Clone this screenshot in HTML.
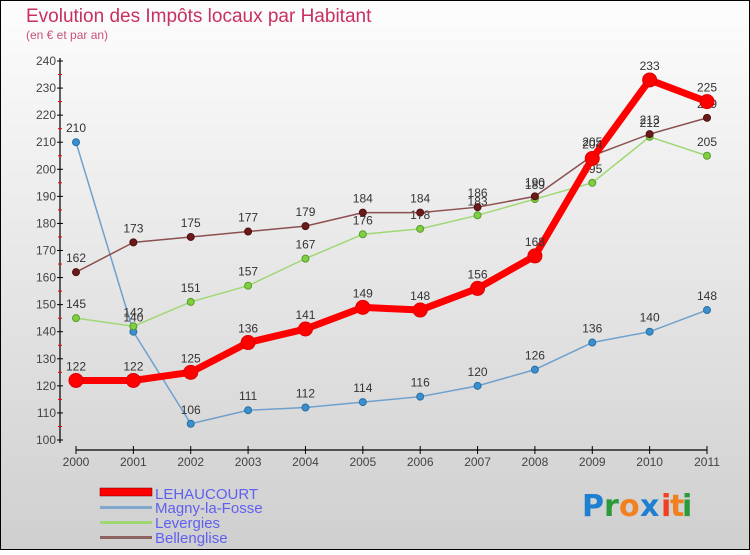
<!DOCTYPE html>
<html><head><meta charset="utf-8"><style>
html,body{margin:0;padding:0}
body{width:750px;height:550px;overflow:hidden;font-family:"Liberation Sans","DejaVu Sans",sans-serif}
</style></head><body>
<svg id="c" width="750" height="550" xmlns="http://www.w3.org/2000/svg">
<defs><linearGradient id="bg" x1="0" y1="0" x2="0" y2="1"><stop offset="0" stop-color="#fdfdfd"/><stop offset="1" stop-color="#cfcfcf"/></linearGradient></defs>
<rect x="0.5" y="0.5" width="749" height="549" fill="url(#bg)" stroke="#000" stroke-width="1"/>
<text x="26" y="22" font-size="19" fill="#c8305f">Evolution des Impôts locaux par Habitant</text>
<text x="26" y="39" font-size="12" fill="#c8507a">(en € et par an)</text>
<g id="axes"></g><g id="series"></g>
<g>
<rect x="100" y="488" width="52" height="8" fill="#f00" stroke="#600" stroke-width="0.5"/>
<rect x="100" y="506" width="52" height="3" fill="#7fa8cc"/>
<rect x="100" y="521" width="52" height="3" fill="#9fd873"/>
<rect x="100" y="536" width="52" height="3" fill="#8c6262"/>
<text x="155" y="499" font-size="15" fill="#6060f0">LEHAUCOURT</text>
<text x="155" y="513" font-size="15" fill="#6060f0">Magny-la-Fosse</text>
<text x="155" y="528" font-size="15" fill="#6060f0">Levergies</text>
<text x="155" y="543" font-size="15" fill="#6060f0">Bellenglise</text>
</g>
<g font-size="30" font-weight="bold" font-family="'DejaVu Sans',sans-serif">
<text x="582" y="516" fill="#1f7fd0">P</text><text x="604" y="516" fill="#2a9a3a">r</text><text x="619" y="516" fill="#f08020">o</text><text x="640" y="516" fill="#1f7fd0">x</text><text x="661" y="516" fill="#f04020">i</text><text x="670" y="516" fill="#f08020">t</text><text x="682" y="516" fill="#2a9a3a">i</text>
</g>
</svg>
<script>
const years=[2000,2001,2002,2003,2004,2005,2006,2007,2008,2009,2010,2011];
const yTicks=[100,110,120,130,140,150,160,170,180,190,200,210,220,230,240];
const lehaucourt=[122,122,125,136,141,149,148,156,168,204,233,225];
const magny=[210,140,106,111,112,114,116,120,126,136,140,148];
const levergies=[145,142,151,157,167,176,178,183,189,195,212,205];
const bellenglise=[162,173,175,177,179,184,184,186,190,205,213,219];
const NS="http://www.w3.org/2000/svg";
const X=i=>76+i*(707-76)/11;
const Y=v=>440-(v-100)*(440-61)/140;
function mk(t,a,p){const e=document.createElementNS(NS,t);for(const k in a)e.setAttribute(k,a[k]);p.appendChild(e);return e;}
const ax=document.getElementById('axes');
mk('line',{x1:60,y1:58,x2:60,y2:443,stroke:'#000','stroke-width':1.2},ax);
mk('line',{x1:76,y1:450,x2:707,y2:450,stroke:'#000','stroke-width':1.2},ax);
yTicks.forEach(v=>{
 mk('line',{x1:57,x2:63,y1:Y(v),y2:Y(v),stroke:'#000'},ax);
 if(v<240)mk('line',{x1:58,x2:62,y1:Y(v+5),y2:Y(v+5),stroke:'#e00'},ax);
 const t=mk('text',{x:56,y:Y(v)+4,'text-anchor':'end','font-size':12,fill:'#444'},ax);t.textContent=v;
 
 
});
years.forEach((y,i)=>{
 mk('line',{x1:X(i),x2:X(i),y1:446,y2:454,stroke:'#000'},ax);
 const t=mk('text',{x:X(i),y:466,'text-anchor':'middle','font-size':12,fill:'#444'},ax);t.textContent=y;
 
 
});
const sg=document.getElementById('series');
function series(data,name,color,w,r,dot,dotStroke){
 const g=mk('g',{},sg);
 
 
 mk('polyline',{points:data.map((v,i)=>X(i)+','+Y(v)).join(' '),fill:'none',stroke:color,'stroke-width':w,'stroke-linejoin':'round'},g);
 data.forEach((v,i)=>{
  const c=mk('circle',{cx:X(i),cy:Y(v),r:r,fill:dot,stroke:dotStroke,'stroke-width':1},g);
  
  
  const t=mk('text',{x:X(i),y:Y(v)-10,'text-anchor':'middle','font-size':12,fill:'#333'},g);t.textContent=v;
  
  
 });
}
series(magny,'magny-la-fosse-series','#6fa0cc',1.5,3.5,'#3a8fd0','#2a6fa0');
series(levergies,'levergies-series','#9fd873',1.5,3.5,'#7fd040','#5a9a30');
series(bellenglise,'bellenglise-series','#8c5050',1.5,3.5,'#6a1a1a','#501010');
series(lehaucourt,'lehaucourt-series','#f00',7,7,'#f00','#d00');
</script>
</body></html>
